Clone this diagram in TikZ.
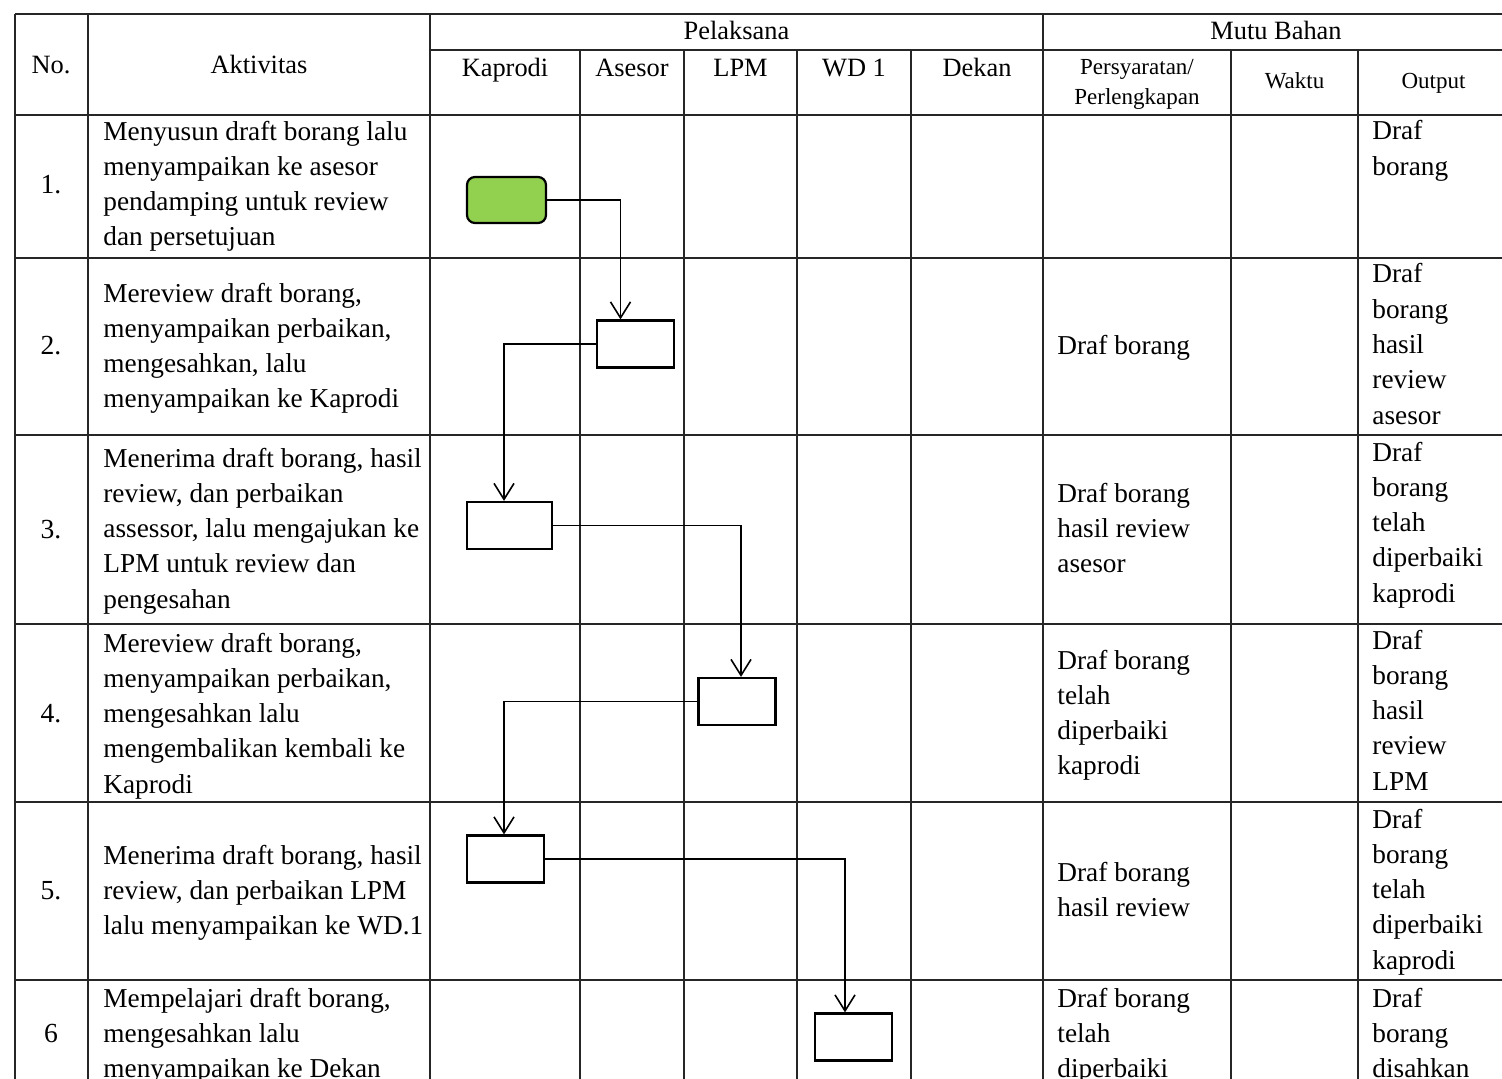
\documentclass[tikz,border=0pt]{standalone}
\usepackage{fontspec}
\setmainfont{Liberation Serif}
\usetikzlibrary{arrows.meta}
\definecolor{startgreen}{RGB}{146,208,80}
\tikzset{
  tableline/.style={draw=black!85, line width=0.7pt},
  startbox/.style={draw=black, fill=startgreen, rounded corners=4pt, line width=1.1pt, minimum width=39.5pt, minimum height=23pt, inner sep=0pt},
  procbox/.style={draw=black, fill=white, line width=1.1pt, minimum width=38.5pt, minimum height=23.5pt, inner sep=0pt},
  flow/.style={-{Straight Barb[length=8pt,width=10pt]}, line width=0.8pt, draw=black},
  cell/.style={anchor=base west, align=left, inner sep=0pt, font=\fontsize{13.65}{17.65}\selectfont},
  numcell/.style={anchor=base, inner sep=0pt, font=\fontsize{13.8}{17.65}\selectfont},
  head/.style={anchor=base, inner sep=0pt, font=\fontsize{13.2}{16}\selectfont},
  subhead/.style={anchor=base, align=center, inner sep=0pt, font=\fontsize{11.5}{15}\selectfont}
}

\begin{document}
\begin{tikzpicture}[x=0.5pt, y=-0.5pt]
  \useasboundingbox (0,0) rectangle (1502,1079);
  \clip (0,0) rectangle (1502,1079);

  % table
  \draw[tableline] (15,14) -- (1509,14) (430,50) -- (1509,50) (15,115) -- (1509,115)
    (15,258) -- (1509,258) (15,435) -- (1509,435) (15,624) -- (1509,624)
    (15,802) -- (1509,802) (15,980) -- (1509,980);
  \draw[tableline] (15,14) -- (15,1090) (88,14) -- (88,1090) (430,14) -- (430,1090)
    (1043,14) -- (1043,1090) (1509,14) -- (1509,1090);
  \draw[tableline] (580,50) -- (580,1090) (684,50) -- (684,1090) (797,50) -- (797,1090)
    (911,50) -- (911,1090) (1231,50) -- (1231,1090) (1358,50) -- (1358,1090);

  % header
  \node[head] (hno) at (51,74) {No.};
  \node[head] (hakt) at (259,74) {Aktivitas};
  \node[head] (hpel) at (736.5,40) {Pelaksana};
  \node[head] (hmutu) at (1276,40) {Mutu Bahan};
  \node[head] (hkap) at (505,77) {Kaprodi};
  \node[head] (hase) at (632,77) {Asesor};
  \node[head] (hlpm) at (740.5,77) {LPM};
  \node[head] (hwd) at (854,77) {WD 1};
  \node[head] (hdek) at (977,77) {Dekan};
  \node[subhead] (hsyarat) at (1137,105) {Persyaratan/\\Perlengkapan};
  \node[subhead] (hwaktu) at (1294.5,89) {Waktu};
  \node[subhead] (hout) at (1433.5,89) {Output};

  % rows (nodes placed at the baseline of their last line)
  \node[numcell] (no1) at (51,194) {1.};
  \node[cell] (akt1) at (103,246) {Menyusun draft borang lalu\\menyampaikan ke asesor\\pendamping untuk review\\dan persetujuan};
  \node[cell] (out1) at (1372,175.3) {Draf\\borang};

  \node[numcell] (no2) at (51,355) {2.};
  \node[cell] (akt2) at (103,408) {Mereview draft borang,\\menyampaikan perbaikan,\\mengesahkan, lalu\\menyampaikan ke Kaprodi};
  \node[cell] (req2) at (1057,355) {Draf borang};
  \node[cell] (out2) at (1372,424.2) {Draf\\borang\\hasil\\review\\asesor};

  \node[numcell] (no3) at (51,538) {3.};
  \node[cell] (akt3) at (103,608.2) {Menerima draft borang, hasil\\review, dan perbaikan\\assessor, lalu mengajukan ke\\LPM untuk review dan\\pengesahan};
  \node[cell] (req3) at (1057,572.6) {Draf borang\\hasil review\\asesor};
  \node[cell] (out3) at (1372,602.2) {Draf\\borang\\telah\\diperbaiki\\kaprodi};

  \node[numcell] (no4) at (51,722) {4.};
  \node[cell] (akt4) at (103,793.2) {Mereview draft borang,\\menyampaikan perbaikan,\\mengesahkan lalu\\mengembalikan kembali ke\\Kaprodi};
  \node[cell] (req4) at (1057,774.9) {Draf borang\\telah\\diperbaiki\\kaprodi};
  \node[cell] (out4) at (1372,790.2) {Draf\\borang\\hasil\\review\\LPM};

  \node[numcell] (no5) at (51,899) {5.};
  \node[cell] (akt5) at (103,934.6) {Menerima draft borang, hasil\\review, dan perbaikan LPM\\lalu menyampaikan ke WD.1};
  \node[cell] (req5) at (1057,916.3) {Draf borang\\hasil review};
  \node[cell] (out5) at (1372,969.2) {Draf\\borang\\telah\\diperbaiki\\kaprodi};

  \node[numcell] (no6) at (51,1042) {6};
  \node[cell] (akt6) at (103,1077.6) {Mempelajari draft borang,\\mengesahkan lalu\\menyampaikan ke Dekan};
  \node[cell] (req6) at (1057,1077.6) {Draf borang\\telah\\diperbaiki};
  \node[cell] (out6) at (1372,1077.6) {Draf\\borang\\disahkan};

  % flow
  \node[startbox] (start) at (506.5,200) {};
  \node[procbox] (rev1) at (635.5,344) {};
  \node[procbox, minimum width=42.5pt] (kap2) at (509.5,525.5) {};
  \node[procbox] (lpm) at (737,701.5) {};
  \node[procbox] (kap3) at (505.5,859) {};
  \node[procbox] (wd) at (853.5,1037) {};
  \draw[flow] (start.east) -| ([xshift=-7.5pt]rev1.north);
  \draw[flow] (rev1.west) -| ([xshift=-2.75pt]kap2.north);
  \draw[flow] (kap2.east) -| ([xshift=2pt]lpm.north);
  \draw[flow] (lpm.west) -| ([xshift=-0.75pt]kap3.north);
  \draw[flow] (kap3.east) -| ([xshift=-4.25pt]wd.north);
\end{tikzpicture}
\end{document}
